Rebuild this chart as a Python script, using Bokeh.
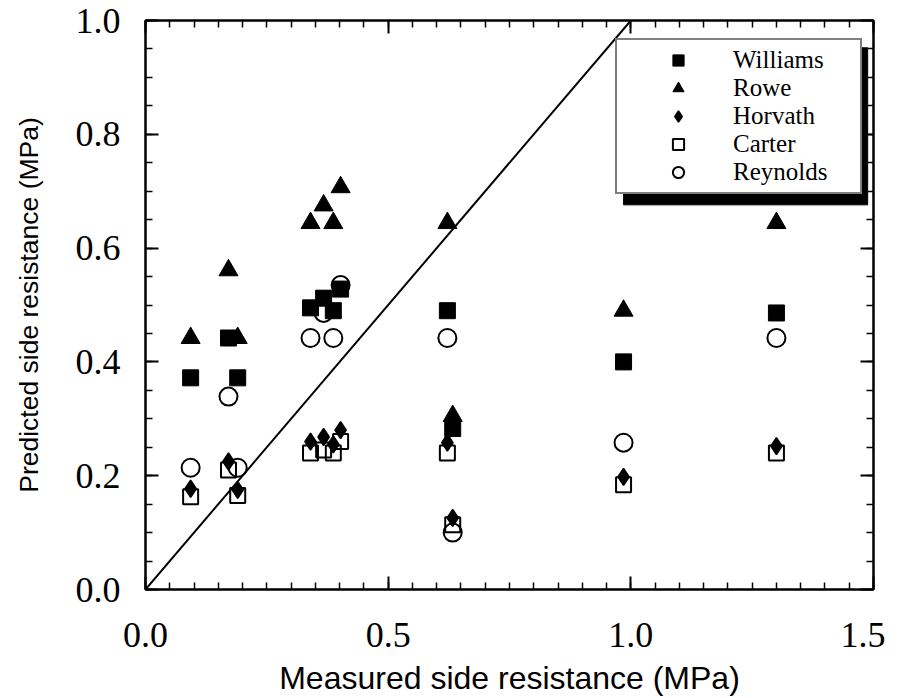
import numpy as np
from bokeh.plotting import figure
from bokeh.models import (LinearAxis, FixedTicker, Legend, LegendItem, BoxAnnotation,
                          Slope, CustomJSTickFormatter, Range1d)
from bokeh.embed import file_html
from bokeh.resources import INLINE

# ---- data ----
measured = [0.093, 0.171, 0.190, 0.340, 0.367, 0.387, 0.402, 0.622, 0.633, 0.985, 1.300]
williams = [0.372, 0.442, 0.372, 0.495, 0.512, 0.490, 0.528, 0.490, 0.283, 0.400, 0.486]
rowe     = [0.442, 0.561, 0.442, 0.644, 0.675, 0.644, 0.707, 0.644, 0.305, 0.490, 0.644]
horvath  = [0.177, 0.225, 0.175, 0.260, 0.268, 0.255, 0.280, 0.258, 0.126, 0.198, 0.252]
carter   = [0.163, 0.210, 0.165, 0.240, 0.245, 0.240, 0.260, 0.240, 0.114, 0.184, 0.240]
reynolds = [0.214, 0.339, 0.214, 0.442, 0.486, 0.442, 0.535, 0.442, 0.100, 0.258, 0.442]

series_names = ["Williams", "Rowe", "Horvath", "Carter", "Reynolds"]

x_major = [0.0, 0.5, 1.0, 1.5]
x_labels = ["0.0", "0.5", "1.0", "1.5"]
y_major = [0.0, 0.2, 0.4, 0.6, 0.8, 1.0]
y_labels = ["0.0", "0.2", "0.4", "0.6", "0.8", "1.0"]
x_minor = [round(i * 0.05, 2) for i in range(31)]
y_minor = [round(i * 0.05, 2) for i in range(21)]

equality_gradient = 1.0

SERIF = "Liberation Serif"
SANS = "Liberation Sans"

p = figure(width=885, height=698, output_backend="svg", toolbar_location=None,
           x_range=Range1d(0, 1.5), y_range=Range1d(0, 1.0),
           min_border_left=145, min_border_right=12, min_border_top=20, min_border_bottom=108)
p.grid.visible = False
p.outline_line_color = "black"
p.outline_line_width = 2
p.background_fill_color = "white"
p.border_fill_color = "white"


def style_axis(ax, ticks, minor, labels=None, show_labels=True):
    ax.ticker = FixedTicker(ticks=ticks, minor_ticks=minor)
    ax.axis_line_color = "black"
    ax.axis_line_width = 2
    ax.major_tick_in = 13
    ax.major_tick_out = 0
    ax.minor_tick_in = 7
    ax.minor_tick_out = 0
    ax.major_tick_line_width = 2
    ax.minor_tick_line_width = 1.5
    ax.major_tick_line_color = "black"
    ax.minor_tick_line_color = "black"
    if show_labels:
        ax.major_label_overrides = {t: l for t, l in zip(ticks, labels)}
        ax.major_label_text_font = SERIF
        ax.major_label_text_font_size = "36px"
        ax.major_label_text_color = "black"
    else:
        ax.formatter = CustomJSTickFormatter(code="return ''")
        ax.major_label_standoff = 0
        ax.major_label_text_font_size = "1px"


style_axis(p.xaxis[0], x_major, x_minor, x_labels)
style_axis(p.yaxis[0], y_major, y_minor, y_labels)
p.xaxis[0].major_label_standoff = 33
p.yaxis[0].major_label_standoff = 25
p.xaxis[0].axis_label = "Measured side resistance (MPa)"
p.yaxis[0].axis_label = "Predicted side resistance (MPa)"
p.xaxis[0].axis_label_text_font = SANS
p.yaxis[0].axis_label_text_font = SANS
p.xaxis[0].axis_label_text_font_size = "32px"
p.yaxis[0].axis_label_text_font_size = "26.5px"
p.xaxis[0].axis_label_text_font_style = "normal"
p.yaxis[0].axis_label_text_font_style = "normal"
p.xaxis[0].axis_label_text_color = "black"
p.yaxis[0].axis_label_text_color = "black"
p.xaxis[0].axis_label_standoff = 10
p.yaxis[0].axis_label_standoff = 29

top_ax = LinearAxis()
style_axis(top_ax, x_major, x_minor, show_labels=False)
p.add_layout(top_ax, "above")
right_ax = LinearAxis()
style_axis(right_ax, y_major, y_minor, show_labels=False)
p.add_layout(right_ax, "right")

# 1:1 line
p.add_layout(Slope(gradient=equality_gradient, y_intercept=0, line_color="black", line_width=2))

r_w = p.scatter(measured, williams, marker="square", size=16, fill_color="black",
                line_color="black", line_width=1)
r_r = p.scatter(measured, rowe, marker="triangle", size=19, fill_color="black",
                line_color="black", line_width=1)
r_h = p.scatter(measured, horvath, marker="diamond", size=17,
                fill_color="black", line_color="black", line_width=1.5)
r_c = p.scatter(measured, carter, marker="square", size=15, fill_color=None,
                line_color="black", line_width=2)
r_re = p.scatter(measured, reynolds, marker="circle", size=18, fill_color=None,
                 line_color="black", line_width=2)

# legend shadow (data units)
shadow = BoxAnnotation(left=0.985, right=1.488, top=0.952, bottom=0.676,
                       fill_color="black", fill_alpha=1.0, line_color="black", line_alpha=1.0)
p.add_layout(shadow)

legend = Legend(items=[LegendItem(label=n, renderers=[r]) for n, r in
                       zip(series_names, [r_w, r_r, r_h, r_c, r_re])],
                location=(470, 395))
legend.label_text_font = SERIF
legend.label_text_font_size = "25px"
legend.label_text_color = "black"
legend.border_line_color = "black"
legend.border_line_width = 2
legend.background_fill_color = "white"
legend.background_fill_alpha = 1.0
legend.padding = 6
legend.glyph_width = 110
legend.glyph_height = 28
legend.label_standoff = 0
legend.label_width = 121
legend.label_height = 20
legend.spacing = 0
legend.margin = 0
p.add_layout(legend)

html = file_html(p, INLINE)
open("out.html", "w").write(html)
